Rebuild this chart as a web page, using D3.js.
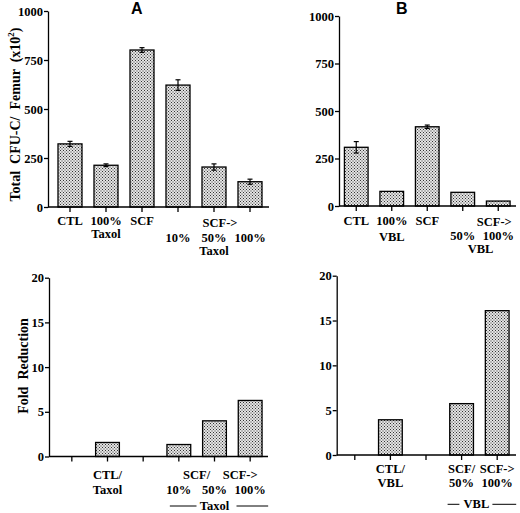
<!DOCTYPE html>
<html>
<head>
<meta charset="utf-8">
<script src="https://cdn.jsdelivr.net/npm/d3@7"></script>
<style>
  body { margin: 0; background: #fff; }
  svg { display: block; }
  text { font-family: "Liberation Serif", "Times New Roman", serif; font-weight: bold; fill: #000; }
  .axis text { font-size: 12.5px; }
  .axis path, .axis line { stroke: #000; stroke-width: 1.3; }
  .xlab { font-size: 12.5px; }
  .ytitle { font-size: 14px; white-space: pre; }
  .panel-title { font-family: "Liberation Sans", Arial, sans-serif; font-size: 16px; }
</style>
</head>
<body>
<div id="svg-container"></div>
<script>
////////////////////////////  Data  ////////////////////////////
// top row: total CFU-C per femur (x10^2)
const topAValues = [322, 213, 801, 622, 204, 129];
const topAErrors = [13, 7, 12, 27, 16, 13];
const topALabels = [["CTL"], ["100%", "Taxol"], ["SCF"], ["10%"], ["50%"], ["100%"]];

const topBValues = [309, 77, 417, 72, 26];
const topBErrors = [30, 0, 9, 0, 0];
const topBLabels = [["CTL"], ["100%", "VBL"], ["SCF"], ["50%"], ["100%"]];

// bottom row: fold reduction (empty slots have no bar)
const botAValues = [null, 1.57, null, 1.34, 3.99, 6.27];
const botALabels = [[], ["CTL/", "Taxol"], [], ["10%"], ["50%"], ["100%"]];

const botBValues = [null, 3.93, null, 5.73, 16.1];
const botBLabels = [[], ["CTL/", "VBL"], [], ["50%"], ["100%"]];

const topTicks = [0, 250, 500, 750, 1000];
const botTicks = [0, 5, 10, 15, 20];

const groupHead = "SCF->";
const ratioHead = "SCF/";
const drugs = ["Taxol", "VBL"];

////////////////////////////  Init  ////////////////////////////
const width = 520, height = 513;
const svg = d3.select("#svg-container").append("svg")
  .attr("width", width).attr("height", height);

// stipple fill
const pat = svg.append("defs").append("pattern")
  .attr("id", "dots").attr("patternUnits", "userSpaceOnUse")
  .attr("width", 3).attr("height", 3);
pat.append("rect").attr("width", 3).attr("height", 3).attr("fill", "#e4e4e4");
pat.append("rect").attr("x", 0).attr("y", 0).attr("width", 1).attr("height", 1).attr("fill", "#333");
pat.append("rect").attr("x", 1.5).attr("y", 1.5).attr("width", 1).attr("height", 1).attr("fill", "#333");

function drawPanel(p) {
  const x = d3.scaleBand()
    .domain(d3.range(p.values.length))
    .range(p.xRange)
    .paddingInner(1 / 3)
    .paddingOuter(1 / 6);
  const y = d3.scaleLinear()
    .domain([0, d3.max(p.ticks)])
    .range(p.yRange);

  const g = svg.append("g");
  const rows = p.values
    .map((v, i) => ({ v, i, e: p.errors ? p.errors[i] : 0 }))
    .filter((d) => d.v != null);

  g.selectAll("rect.bar").data(rows).join("rect")
    .attr("class", "bar")
    .attr("x", (d) => x(d.i))
    .attr("width", x.bandwidth())
    .attr("y", (d) => y(d.v))
    .attr("height", (d) => y(0) - y(d.v))
    .attr("fill", "url(#dots)")
    .attr("stroke", "#000")
    .attr("stroke-width", 1.3);

  // error bars
  const errs = rows.filter((d) => d.e > 0);
  const cx = (i) => x(i) + x.bandwidth() / 2;
  g.selectAll("line.err").data(errs).join("line")
    .attr("class", "err")
    .attr("x1", (d) => cx(d.i)).attr("x2", (d) => cx(d.i))
    .attr("y1", (d) => y(d.v - d.e)).attr("y2", (d) => y(d.v + d.e))
    .attr("stroke", "#000").attr("stroke-width", 1.2);
  ["top", "bot"].forEach((k) => {
    g.selectAll("line.cap-" + k).data(errs).join("line")
      .attr("class", "cap-" + k)
      .attr("x1", (d) => cx(d.i) - 2.5).attr("x2", (d) => cx(d.i) + 2.5)
      .attr("y1", (d) => y(k === "top" ? d.v + d.e : d.v - d.e))
      .attr("y2", (d) => y(k === "top" ? d.v + d.e : d.v - d.e))
      .attr("stroke", "#000").attr("stroke-width", 1.2);
  });

  // axes
  g.append("g").attr("class", "axis")
    .attr("transform", `translate(${p.axisX},0)`)
    .call(d3.axisLeft(y).tickValues(p.ticks).tickFormat(d3.format("d"))
      .tickSize(4).tickSizeOuter(0).tickPadding(1))
    .attr("font-family", null).attr("font-size", null);

  g.append("g").attr("class", "axis")
    .attr("transform", `translate(0,${y(0)})`)
    .call(d3.axisBottom(x).tickSize(5).tickSizeOuter(0).tickFormat(""))
    .call((a) => a.select(".domain").remove());

  g.append("line")
    .attr("x1", p.axisX).attr("x2", p.axisEnd)
    .attr("y1", y(0)).attr("y2", y(0))
    .attr("stroke", "#000").attr("stroke-width", 1.3);

  return cx;
}

function label(t, x, y) {
  svg.append("text").attr("class", "xlab")
    .attr("x", x).attr("y", y).attr("dy", "0.35em")
    .attr("text-anchor", "middle").text(t);
}

function hline(x1, x2, y) {
  svg.append("line").attr("x1", x1).attr("x2", x2).attr("y1", y).attr("y2", y)
    .attr("stroke", "#000").attr("stroke-width", 1);
}

// cell labels: plain categories stack on rows, dose labels on their own row
function cellLabels(cx, labels, doseFrom, rowY, doseY) {
  labels.forEach((lines, i) => {
    if (i >= doseFrom) {
      lines.forEach((t) => label(t, cx(i), doseY));
    } else {
      lines.forEach((t, j) => label(t, cx(i), rowY[j]));
    }
  });
}

////////////////////////////  Panels  ////////////////////////////
// A top
let cx = drawPanel({ values: topAValues, errors: topAErrors, ticks: topTicks,
  xRange: [52, 268], yRange: [207, 11], axisX: 48, axisEnd: 269 });
cellLabels(cx, topALabels, 3, [221, 233.5], 237.5);
label(groupHead, (cx(3) + cx(5)) / 2 + 6, 222.5);
label(drugs[0], (cx(3) + cx(5)) / 2, 251);

// B top
cx = drawPanel({ values: topBValues, errors: topBErrors, ticks: topTicks,
  xRange: [338.5, 516], yRange: [206, 16], axisX: 339, axisEnd: 516 });
cellLabels(cx, topBLabels, 3, [221, 236.5], 235.5);
label(groupHead, cx(4) - 4, 222);
label(drugs[1], (cx(3) + cx(4)) / 2, 248.5);

// A bottom
cx = drawPanel({ values: botAValues, ticks: botTicks,
  xRange: [54, 268], yRange: [456.5, 277.7], axisX: 49, axisEnd: 268 });
cellLabels(cx, botALabels, 3, [475, 489.3], 489.3);
label(ratioHead, (cx(3) + cx(4)) / 2, 475);
label(groupHead, cx(5) - 10, 475);
let mid = (cx(3) + cx(5)) / 2;
label(drugs[0], mid, 505.5);
hline(cx(3) - 9, mid - 18, 506);
hline(mid + 22, cx(5) + 18, 506);

// B bottom
cx = drawPanel({ values: botBValues, ticks: botTicks,
  xRange: [337, 515], yRange: [455, 275.7], axisX: 336.7, axisEnd: 516 });
cellLabels(cx, botBLabels, 3, [469, 482.5], 482.5);
label(ratioHead, cx(3), 469);
label(groupHead, cx(4), 469);
mid = (cx(3) + cx(4)) / 2;
label(drugs[1], mid - 3, 504);
hline(cx(3) - 14, mid - 20, 504.3);
hline(mid + 13, cx(4) + 19, 504.3);

////////////////////////////  Titles  ////////////////////////////
svg.append("text").attr("class", "panel-title")
  .attr("x", 136.7).attr("y", 14).attr("text-anchor", "middle").text("A");
svg.append("text").attr("class", "panel-title")
  .attr("x", 401.7).attr("y", 14).attr("text-anchor", "middle").text("B");

const yt = svg.append("text").attr("class", "ytitle")
  .attr("transform", "translate(19.5,114.5) rotate(-90)")
  .attr("text-anchor", "middle");
yt.append("tspan").text("Total  CFU-C/  Femur  (x10");
yt.append("tspan").attr("dy", -6).attr("font-size", "9px").text("2");
yt.append("tspan").attr("dy", 6).text(")");

svg.append("text").attr("class", "ytitle")
  .attr("transform", "translate(28,366) rotate(-90)")
  .attr("text-anchor", "middle")
  .text("Fold  Reduction");
</script>
</body>
</html>
